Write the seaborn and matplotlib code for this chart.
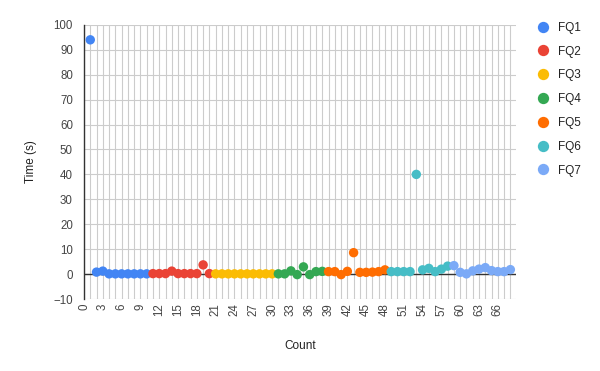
import numpy as np
import pandas as pd
import matplotlib.pyplot as plt
import seaborn as sns

# Thời gian trả lời (giây) cho từng nhóm câu hỏi
fq1 = [94, 0.8, 1.2, 0.1, 0.1, 0.1, 0.1, 0.1, 0.1, 0.1]
fq2 = [0.2, 0.2, 0.2, 1.2, 0.2, 0.2, 0.2, 0.2, 3.7, 0.2]
fq3 = [0.1, 0.1, 0.1, 0.1, 0.1, 0.1, 0.1, 0.1, 0.1, 0.1]
fq4 = [0.1, 0.1, 1.3, -0.2, 2.9, -0.2, 1.0, 1.1]
fq5 = [1.0, 1.0, -0.2, 1.1, 8.6, 0.7, 0.7, 0.8, 1.0, 1.7]
fq6 = [1.0, 1.0, 1.0, 1.0, 40, 1.7, 2.3, 1.0, 2.0, 3.2]
fq7 = [3.4, 0.7, 0.1, 1.3, 2.0, 2.6, 1.4, 1.0, 1.0, 1.8]

groups = ['FQ1', 'FQ2', 'FQ3', 'FQ4', 'FQ5', 'FQ6', 'FQ7']
colors = ['#4285F4', '#EA4335', '#FBBC04', '#34A853', '#FF6D01', '#46BDC6', '#7BAAF7']
x_ticks = list(range(0, 67, 3))
y_ticks = list(range(-10, 101, 10))

series = [fq1, fq2, fq3, fq4, fq5, fq6, fq7]
time = [v for s in series for v in s]
label = [g for g, s in zip(groups, series) for _ in s]
df = pd.DataFrame({'Count': range(1, len(time) + 1), 'Time': time, 'FQ': label})

sns.set_style('white')
plt.rcParams['font.family'] = ['Liberation Sans', 'DejaVu Sans']

fig, ax = plt.subplots(figsize=(6, 3.71), dpi=100)
fig.subplots_adjust(left=0.14, right=0.86, top=0.933, bottom=0.194)

ax.set_xticks(np.arange(0, 69, 1), minor=True)
ax.grid(True, which='both', axis='x', color='#cccccc', linewidth=0.8)
ax.grid(True, which='major', axis='y', color='#cccccc', linewidth=0.8)
ax.set_axisbelow(True)
ax.axhline(0, color='#333333', linewidth=1, zorder=1)

sns.scatterplot(data=df, x='Count', y='Time', hue='FQ', palette=colors,
                s=46, edgecolor='none', ax=ax, zorder=3)

ax.set_xlim(0, 68.9)
ax.set_ylim(-10, 100)
ax.set_xticks(x_ticks)
ax.set_yticks(y_ticks)
ax.tick_params(axis='x', which='both', length=0, labelrotation=90, labelsize=8.3, labelcolor='#444444', pad=3)
ax.tick_params(axis='y', length=5, color='#cccccc', labelsize=8.3, labelcolor='#444444', pad=3)

for side in ['top', 'right', 'bottom']:
    ax.spines[side].set_visible(False)
ax.spines['left'].set_color('#333333')
ax.spines['left'].set_linewidth(1)

ax.set_xlabel('Count', fontsize=8.5, color='#222222', labelpad=17)
ax.set_ylabel('Time (s)', fontsize=8.5, color='#222222', labelpad=12)

ax.legend(loc='upper left', bbox_to_anchor=(1.01, 1.05), frameon=False,
          fontsize=8.5, labelspacing=1.0, handletextpad=0.3, markerscale=1.2,
          labelcolor='#222222')

plt.savefig('out.png', dpi=100)
